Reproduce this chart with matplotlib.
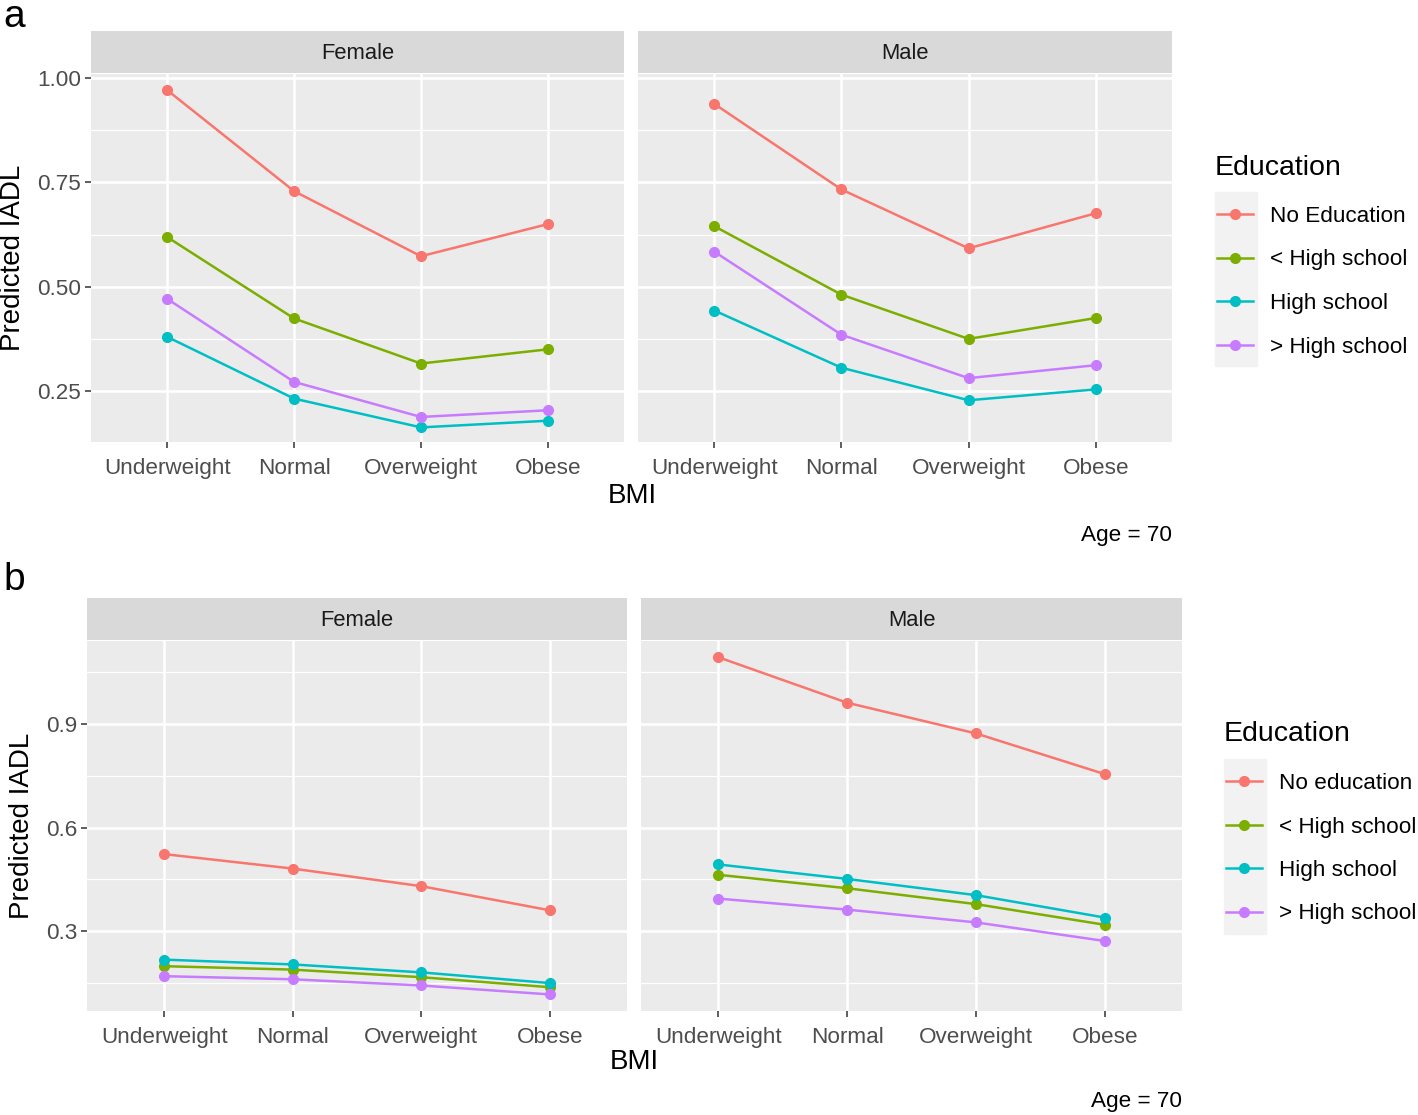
import matplotlib.pyplot as plt
from matplotlib.patches import Rectangle

plt.rcParams['font.family'] = ['Liberation Sans', 'DejaVu Sans']

W, H = 1418, 1115

bmi = ['Underweight', 'Normal', 'Overweight', 'Obese']
edu_a = ['No Education', '< High school', 'High school', '> High school']
edu_b = ['No education', '< High school', 'High school', '> High school']
colours = ['#F8766D', '#7CAE00', '#00BFC4', '#C77CFF']

# panel a, predicted IADL by BMI (order: none, <HS, HS, >HS)
a_female = [
    [0.971, 0.729, 0.573, 0.650],
    [0.619, 0.424, 0.316, 0.350],
    [0.380, 0.232, 0.163, 0.179],
    [0.471, 0.272, 0.188, 0.204],
]
a_male = [
    [0.938, 0.733, 0.592, 0.676],
    [0.645, 0.481, 0.375, 0.425],
    [0.443, 0.306, 0.228, 0.254],
    [0.584, 0.385, 0.281, 0.312],
]
# panel b
b_female = [
    [0.523, 0.481, 0.430, 0.360],
    [0.198, 0.188, 0.166, 0.137],
    [0.217, 0.203, 0.180, 0.149],
    [0.169, 0.160, 0.142, 0.116],
]
b_male = [
    [1.094, 0.962, 0.873, 0.755],
    [0.463, 0.424, 0.378, 0.318],
    [0.493, 0.451, 0.404, 0.339],
    [0.394, 0.362, 0.325, 0.271],
]

a_major = [0.25, 0.50, 0.75, 1.00]
a_minor = [0.125, 0.375, 0.625, 0.875, 1.125]
b_major = [0.3, 0.6, 0.9]
b_minor = [0.15, 0.45, 0.75, 1.05]


def box(x0, y0, x1, y1):
    return [x0 / W, 1 - y1 / H, (x1 - x0) / W, (y1 - y0) / H]


def facet(fig, xs, strip_y, plot_y, title, data, ylim, major, minor, ylabels):
    st = fig.add_axes(box(xs[0], strip_y[0], xs[1], strip_y[1]))
    st.set_facecolor('#D9D9D9')
    st.set_xticks([]); st.set_yticks([])
    for s in st.spines.values():
        s.set_visible(False)
    st.text(0.5, 0.46, title, ha='center', va='center', fontsize=15.8,
            color='#1A1A1A', transform=st.transAxes)

    ax = fig.add_axes(box(xs[0], plot_y[0], xs[1], plot_y[1]))
    ax.set_facecolor('#EBEBEB')
    for s in ax.spines.values():
        s.set_visible(False)
    ax.set_axisbelow(True)
    x = range(len(bmi))
    for m in minor:
        ax.axhline(m, color='white', lw=0.9, zorder=0)
    for m in major:
        ax.axhline(m, color='white', lw=1.8, zorder=0)
    for i in x:
        ax.axvline(i, color='white', lw=1.8, zorder=0)
    lines = []
    for vals, c in zip(data, colours):
        ln, = ax.plot(x, vals, color=c, lw=1.8, marker='o', markersize=7,
                      zorder=3)
        lines.append(ln)
    ax.set_xlim(-0.6, len(bmi) - 0.4)
    ax.set_ylim(*ylim)
    ax.set_xticks(list(x))
    ax.set_xticklabels(bmi, fontsize=16.2, color='#4D4D4D')
    ax.tick_params(axis='x', length=4, width=1.1, color='#333333', pad=7.5)
    if ylabels:
        ax.set_yticks(major)
        ax.set_yticklabels(ylabels, fontsize=16.2, color='#4D4D4D')
        ax.tick_params(axis='y', length=4, width=1.1, color='#333333', pad=3)
    else:
        ax.set_yticks([])
    return ax, lines


fig = plt.figure(figsize=(W / 100, H / 100), dpi=100)

# ---- panel a
ylim_a = (0.128, 1.0096)
facet(fig, (91, 624), (31, 73), (74, 442), 'Female', a_female, ylim_a,
      a_major, a_minor, ['0.25', '0.50', '0.75', '1.00'])
axm, lines = facet(fig, (638, 1172), (31, 73), (74, 442), 'Male', a_male,
                   ylim_a, a_major, a_minor, None)
fig.text(13 / W, 1 - 258 / H, 'Predicted IADL', rotation=90, ha='center',
         va='center', fontsize=20)
fig.text(632 / W, 1 - 496 / H, 'BMI', ha='center', va='center', fontsize=20)
fig.text(1172 / W, 1 - 536 / H, 'Age = 70', ha='right', va='center',
         fontsize=16.2)
fig.text(1215 / W, 1 - 168 / H, 'Education', ha='left', va='center',
         fontsize=20.5)
fig.patches.append(Rectangle((1215 / W, 1 - 366 / H), 42 / W, 174 / H,
                             transform=fig.transFigure, color='#F2F2F2',
                             zorder=0))
fig.legend(lines, edu_a, loc='upper left', bbox_to_anchor=(1217 / W, 1 - 206 / H),
           frameon=False, fontsize=16.2, handlelength=1.6, handletextpad=0.75,
           labelspacing=1.0, borderpad=0, borderaxespad=0, markerscale=1)
fig.text(3 / W, 1 - 17 / H, 'a', ha='left', va='center', fontsize=28)

# ---- panel b
ylim_b = (0.068, 1.141)
facet(fig, (87, 627), (598, 640), (641, 1011), 'Female', b_female, ylim_b,
      b_major, b_minor, ['0.3', '0.6', '0.9'])
axm, lines = facet(fig, (641, 1182), (598, 640), (641, 1011), 'Male', b_male,
                   ylim_b, b_major, b_minor, None)
fig.text(22 / W, 1 - 826 / H, 'Predicted IADL', rotation=90, ha='center',
         va='center', fontsize=20)
fig.text(634 / W, 1 - 1062 / H, 'BMI', ha='center', va='center', fontsize=20)
fig.text(1182 / W, 1 - 1101 / H, 'Age = 70', ha='right', va='center',
         fontsize=16.2)
fig.text(1224 / W, 1 - 734 / H, 'Education', ha='left', va='center',
         fontsize=20.5)
fig.patches.append(Rectangle((1224 / W, 1 - 934 / H), 42 / W, 175 / H,
                             transform=fig.transFigure, color='#F2F2F2',
                             zorder=0))
fig.legend(lines, edu_b, loc='upper left', bbox_to_anchor=(1226 / W, 1 - 773 / H),
           frameon=False, fontsize=16.2, handlelength=1.6, handletextpad=0.75,
           labelspacing=1.0, borderpad=0, borderaxespad=0, markerscale=1)
fig.text(3 / W, 1 - 580 / H, 'b', ha='left', va='center', fontsize=28)

fig.savefig('out.png', dpi=100)
